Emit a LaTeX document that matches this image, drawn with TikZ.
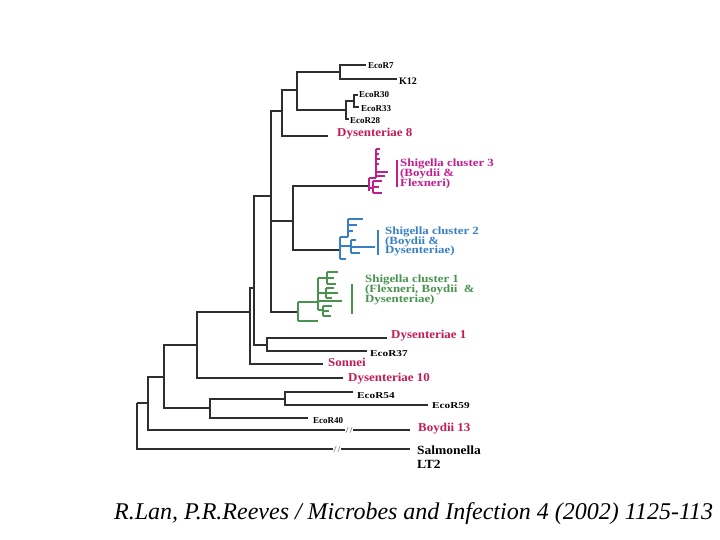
\documentclass[tikz,border=0pt]{standalone}
\usepackage{fontspec}
\usepackage{graphicx}
\setmainfont{Liberation Serif}
\newfontfamily\lblfont[FakeStretch=1.08]{Liberation Serif}
\newfontfamily\clfont[FakeStretch=1.17]{Liberation Serif}
\newcommand{\widelbl}[1]{\scalebox{1.25}[1]{#1}}
\definecolor{treeblack}{RGB}{45,45,50}
\definecolor{spred}{RGB}{195,28,85}
\definecolor{clmag}{RGB}{195,30,145}
\definecolor{clblue}{RGB}{55,128,198}
\definecolor{clgreen}{RGB}{72,148,78}
\tikzset{
  br/.style={draw=treeblack, line width=1.4pt},
  thk/.style={draw=treeblack, line width=2.7pt},
  magl/.style={draw=clmag, line width=1.2pt},
  blul/.style={draw=clblue, line width=1.2pt},
  grnl/.style={draw=clgreen, line width=1.2pt},
  sp/.style={anchor=base west, inner sep=0pt, text=spred, font=\lblfont\bfseries\fontsize{12}{12}\selectfont},
  blk/.style={anchor=base west, inner sep=0pt, text=black, font=\lblfont\bfseries\fontsize{12.5}{12.5}\selectfont},
  eco/.style={anchor=base west, inner sep=0pt, text=black, font=\bfseries\fontsize{9}{9}\selectfont},
  cl3/.style={anchor=base west, inner sep=0pt, text=clmag, font=\clfont\bfseries\fontsize{11}{11}\selectfont},
  cl2/.style={anchor=base west, inner sep=0pt, text=clblue, font=\clfont\bfseries\fontsize{11}{11}\selectfont},
  cl1/.style={anchor=base west, inner sep=0pt, text=clgreen, font=\clfont\bfseries\fontsize{11}{11}\selectfont},
}
\begin{document}
\begin{tikzpicture}[x=1pt,y=-1pt]
\useasboundingbox[fill=white] (0,0) rectangle (720,540);
% coordinates of tree nodes
\coordinate (n0) at (137,403);
\coordinate (n1) at (148,403);
\coordinate (salm) at (410,449);
\coordinate (n2) at (164,377);
\coordinate (boyd) at (410,430);
\coordinate (n3) at (210,408);
\coordinate (n5) at (197,345);
\coordinate (n4) at (285,399);
\coordinate (e40) at (308,418);
\coordinate (e54) at (353,392);
\coordinate (e59) at (428,405);
\coordinate (d10) at (343,378);
\coordinate (n6) at (250,312);
\coordinate (son) at (323,364);
\coordinate (n7) at (254,288);
\coordinate (n8) at (267,345);
\coordinate (d1) at (387,338);
\coordinate (e37) at (367,351);
\coordinate (n9) at (271,196);
\coordinate (tk) at (271,282);
\coordinate (n10) at (282,111);
\coordinate (d8) at (328,136);
\coordinate (n11) at (297,90);
\coordinate (n12) at (340,72);
\coordinate (e7) at (366,65);
\coordinate (k12) at (397,79);
\coordinate (n13) at (346,110);
\coordinate (n14) at (354,101);
\coordinate (e30) at (358,95);
\coordinate (e33) at (359,107);
\coordinate (e28) at (349,119);
\coordinate (n15) at (293,221);
\coordinate (c3) at (369,186);
\coordinate (c2) at (340,250);
\coordinate (c1) at (298,312);
% black tree
\draw[br] (n0) |- (salm);  \draw[br] (n0) |- (n1);
\draw[br] (n1) |- (boyd);  \draw[br] (n1) |- (n2);
\draw[br] (n2) |- (n3);    \draw[br] (n2) |- (n5);
\draw[br] (n3) |- (n4);    \draw[br] (n3) |- (e40);
\draw[br] (n4) |- (e54);   \draw[br] (n4) |- (e59);
\draw[br] (n5) |- (d10);   \draw[br] (n5) |- (n6);
\draw[br] (n6) |- (son);   \draw[br] (n6) |- (n7);
\draw[br] (n7) |- (n8);    \draw[br] (n7) |- (n9);
\draw[br] (n8) |- (d1);    \draw[br] (n8) |- (e37);
\draw[br] (n9) |- (n10);   \draw[br] (n9) |- (n15);  \draw[br] (n9) |- (c1);
\draw[br] (n10) |- (d8);   \draw[br] (n10) |- (n11);
\draw[br] (n11) |- (n12);  \draw[br] (n11) |- (n13);
\draw[br] (n12) |- (e7);   \draw[br] (n12) |- (k12);
\draw[br] (n13) |- (n14);  \draw[br] (n13) |- (e28);
\draw[br] (n14) |- (e30);  \draw[br] (n14) |- (e33);
\draw[br] (n15) |- (c3);   \draw[br] (n15) |- (c2);
% thick branches
\draw[thk] (n11 -| n10) -- (n11);
\draw[thk] (n12 -| n11) -- (n12);
\draw[thk] (c3 -| n15) -- (c3);
\draw[thk] (c2 -| n15) -- (c2);
\draw[thk] (n9 |- n15) -- (tk);
% break marks
\coordinate (bk1) at (349,430);
\coordinate (bk2) at (337,449);
\foreach \b in {bk1,bk2}{
  \begin{scope}[shift={(\b)}]
    \fill[white] (-4,-2.5) rectangle (4,2.5);
    \draw[gray, line width=0.6pt] (-3.2,3) -- (-0.8,-3) (0.8,3) -- (3.2,-3);
  \end{scope}
}
% cluster 3 (magenta)
\draw[magl] (369,178) -- (369,191);
\draw[magl] (369,178) -- (376,178) (376,149) -- (376,178);
\draw[magl] (376,149) -- (380,149) (376,154) -- (379,154) (376,159) -- (380,159) (376,164) -- (379,164);
\draw[magl] (376,172) -- (388,172) (376,176) -- (385,176);
\draw[magl] (369,188) -- (373,188) (373,181) -- (373,193);
\draw[magl] (373,181) -- (382,181) (373,187) -- (379,187) (373,193) -- (382,193);
\draw[magl] (397,160) -- (397,187);
% cluster 2 (blue)
\draw[blul] (340,237) -- (340,259);
\draw[blul] (340,237) -- (348,237) (348,219) -- (348,237);
\draw[blul] (348,219) -- (363,219) (348,225) -- (357,225) (348,231) -- (353,231);
\draw[blul] (340,246) -- (351,246) (351,240) -- (351,253);
\draw[blul] (351,240) -- (356,240) (351,247) -- (375,247) (351,253) -- (360,253);
\draw[blul] (340,259) -- (346,259);
\draw[blul] (378,230) -- (378,255);
% cluster 1 (green)
\draw[grnl] (298,302) -- (298,321);
\draw[grnl] (298,302) -- (318,302) (318,278) -- (318,310);
\draw[grnl] (318,278) -- (327,278) (327,272) -- (327,284);
\draw[grnl] (327,272) -- (338,272) (327,278) -- (334,278) (327,284) -- (336,284);
\draw[grnl] (318,293) -- (326,293) (326,288) -- (326,298);
\draw[grnl] (326,288) -- (334,288) (326,293) -- (338,293) (326,298) -- (332,298);
\draw[grnl] (318,301) -- (342,301);
\draw[grnl] (318,310) -- (323,310) (323,306) -- (323,316);
\draw[grnl] (323,306) -- (332,306) (323,311) -- (329,311) (323,316) -- (331,316);
\draw[grnl] (298,321) -- (318,321);
\draw[grnl] (352,284) -- (352,314);
% labels
\node[eco] (Le7) at (368,69) {EcoR7};
\node[eco, font=\bfseries\fontsize{10}{10}\selectfont] (Lk12) at (399,85) {K12};
\node[eco] (Le30) at (359,98) {EcoR30};
\node[eco] (Le33) at (361,112) {EcoR33};
\node[eco] (Le28) at (350,124) {EcoR28};
\node[sp] (Ld8) at (337,137) {Dysenteriae 8};
\node[cl3] (C3a) at (400,167) {Shigella cluster 3};
\node[cl3] (C3b) at (400,177) {(Boydii \&};
\node[cl3] (C3c) at (400,187) {Flexneri)};
\node[cl2] (C2a) at (385,234) {Shigella cluster 2};
\node[cl2] (C2b) at (385,244) {(Boydii \&};
\node[cl2] (C2c) at (385,254) {Dysenteriae)};
\node[cl1] (C1a) at (365,282) {Shigella cluster 1};
\node[cl1] (C1b) at (365,292) {(Flexneri, Boydii\ \ \&};
\node[cl1] (C1c) at (365,302) {Dysenteriae)};
\node[sp] (Ld1) at (391,338) {Dysenteriae 1};
\node[eco] (Le37) at (370,356) {\widelbl{EcoR37}};
\node[sp] (Lson) at (328,366) {Sonnei};
\node[sp] (Ld10) at (348,381) {Dysenteriae 10};
\node[eco] (Le54) at (357,398) {\widelbl{EcoR54}};
\node[eco] (Le59) at (432,408) {\widelbl{EcoR59}};
\node[eco] (Le40) at (313,423) {EcoR40};
\node[sp] (Lboyd) at (418,431) {Boydii 13};
\node[blk] (Lsalm) at (417,454) {Salmonella};
\node[blk] (Llt2) at (417,468) {LT2};
% citation
\node[anchor=base west, inner sep=0pt, font=\itshape\fontsize{24}{24}\selectfont] (cite) at (114,519) {R.Lan, P.R.Reeves / Microbes and Infection 4 (2002) 1125-113};
\end{tikzpicture}
\end{document}
